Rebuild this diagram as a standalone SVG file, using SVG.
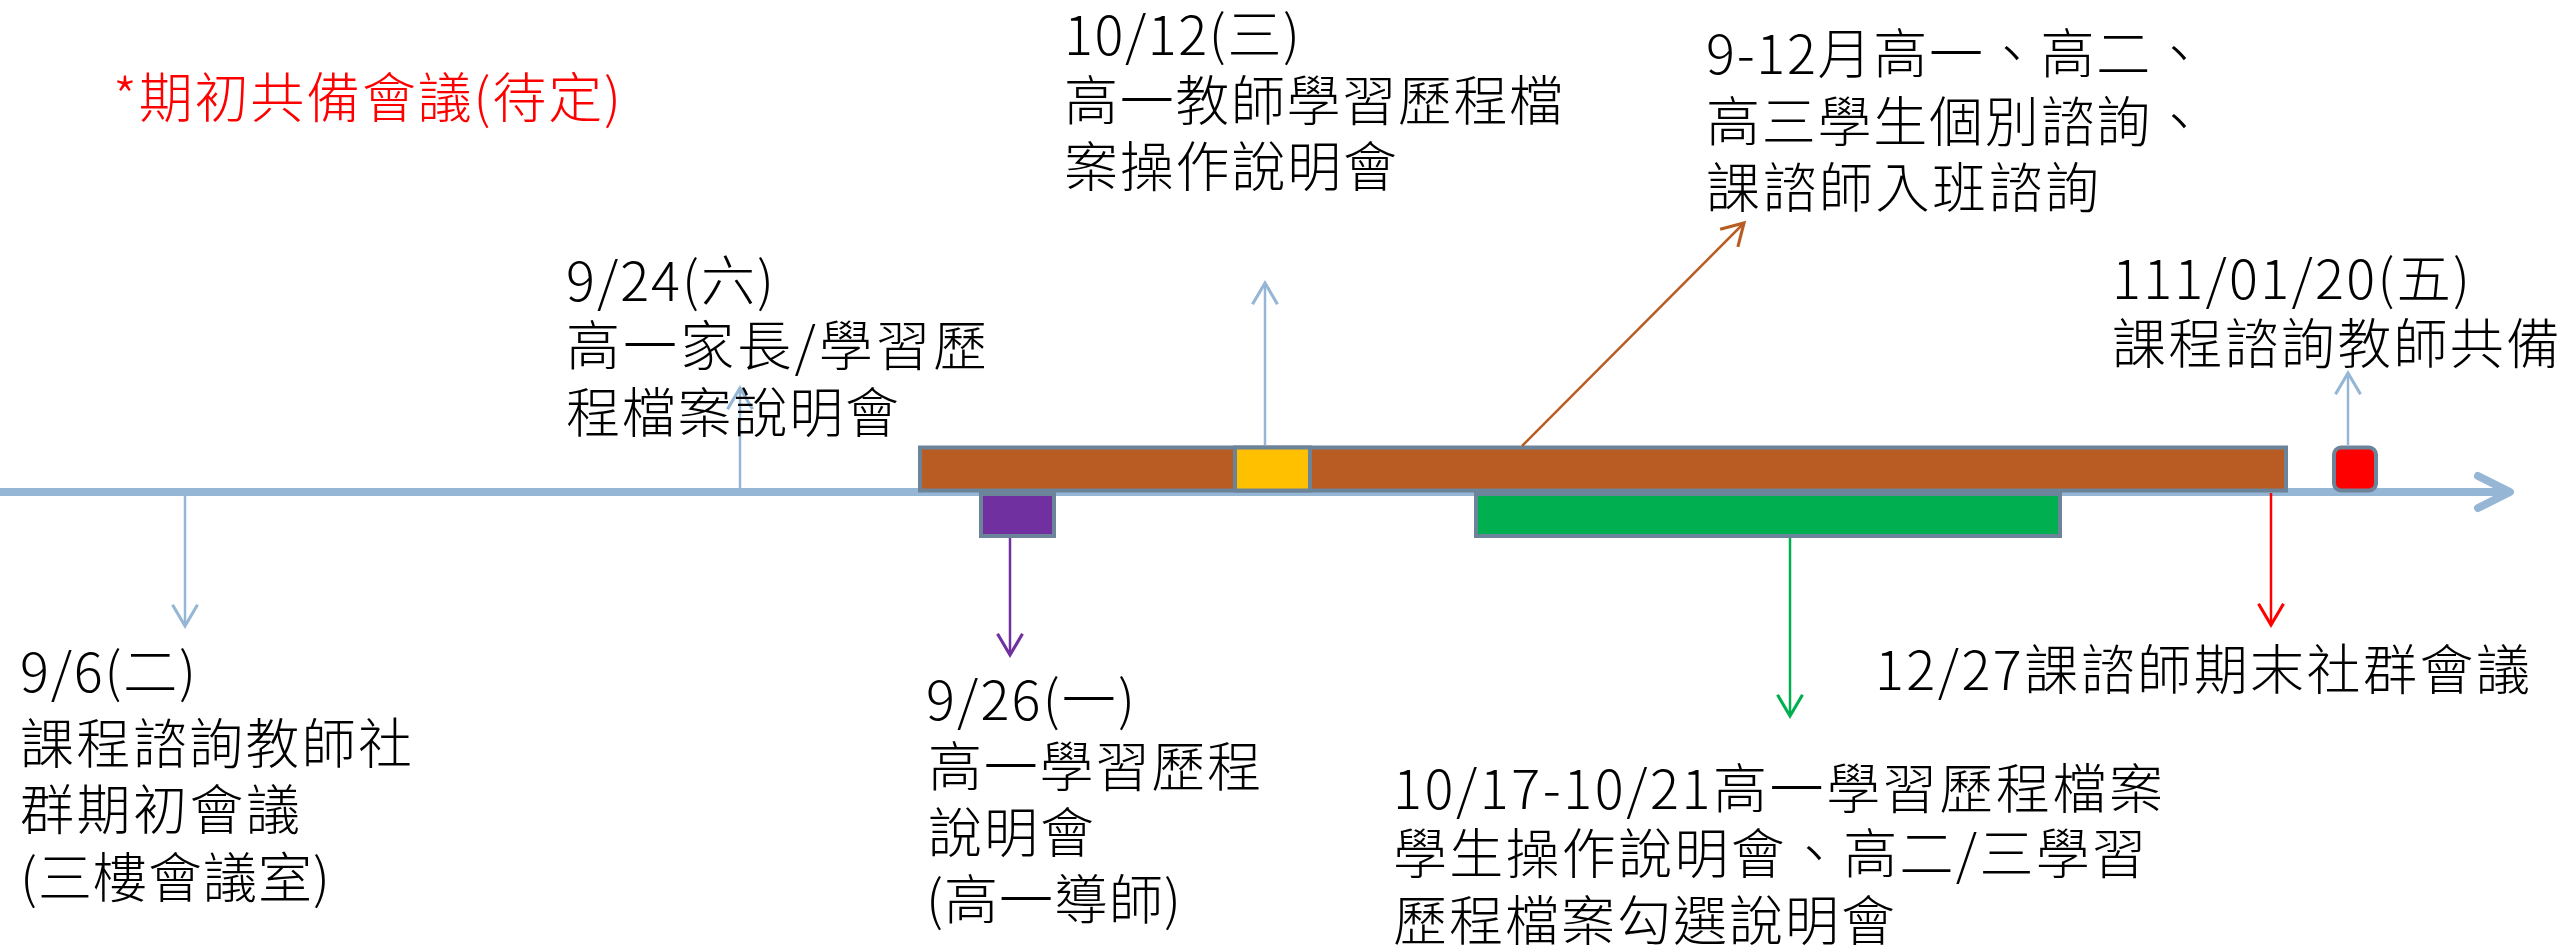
<svg xmlns="http://www.w3.org/2000/svg" width="2557" height="949" viewBox="0 0 2557 949">
<style>
  .t { font-family: "Noto Sans CJK TC", "Noto Sans CJK SC", sans-serif; font-size: 54px; font-weight: 300; fill: #000; }
  .red { fill: #FF0000; }
  .bar { stroke: #6C8499; stroke-width: 4; }
  .conn { fill: none; stroke-width: 2.5; }
</style>
<defs>
  <marker id="mBlue" markerUnits="userSpaceOnUse" markerWidth="30" markerHeight="30" viewBox="-20 -12 24 24" refX="0" refY="0" orient="auto">
    <path d="M-17,-10 L0,0 L-17,10" fill="none" stroke="#95B6D5" stroke-width="2.5"/>
  </marker>
  <marker id="mBrown" markerUnits="userSpaceOnUse" markerWidth="30" markerHeight="30" viewBox="-20 -12 24 24" refX="0" refY="0" orient="auto">
    <path d="M-17,-10 L0,0 L-17,10" fill="none" stroke="#B85C23" stroke-width="2.5"/>
  </marker>
  <marker id="mPurple" markerUnits="userSpaceOnUse" markerWidth="30" markerHeight="30" viewBox="-20 -12 24 24" refX="0" refY="0" orient="auto">
    <path d="M-17,-10 L0,0 L-17,10" fill="none" stroke="#7030A0" stroke-width="2.5"/>
  </marker>
  <marker id="mGreen" markerUnits="userSpaceOnUse" markerWidth="30" markerHeight="30" viewBox="-20 -12 24 24" refX="0" refY="0" orient="auto">
    <path d="M-17,-10 L0,0 L-17,10" fill="none" stroke="#00B050" stroke-width="2.5"/>
  </marker>
  <marker id="mRed" markerUnits="userSpaceOnUse" markerWidth="30" markerHeight="30" viewBox="-20 -12 24 24" refX="0" refY="0" orient="auto">
    <path d="M-17,-10 L0,0 L-17,10" fill="none" stroke="#FF0000" stroke-width="2.5"/>
  </marker>
</defs>
<rect x="0" y="0" width="2557" height="949" fill="#FFFFFF"/>

<g id="axis">
  <line x1="0" y1="492" x2="2506" y2="492" stroke="#95B6D5" stroke-width="8"/>
  <polyline points="2478,476 2510,492 2478,508" fill="none" stroke="#95B6D5" stroke-width="8" stroke-linecap="round" stroke-linejoin="round"/>
</g>

<g id="bar-brown"><rect class="bar" x="920" y="447.5" width="1366" height="43" fill="#B85C23"/></g>
<g id="bar-yellow"><rect class="bar" x="1235" y="447.5" width="75" height="43" fill="#FFC000"/></g>
<g id="bar-purple"><rect class="bar" x="981" y="494" width="73" height="42" fill="#7030A0"/></g>
<g id="bar-green"><rect class="bar" x="1476" y="494" width="584" height="42" fill="#00B050"/></g>
<g id="box-red"><rect class="bar" x="2334" y="447.5" width="42" height="43" rx="7" fill="#FF0000"/></g>

<g id="connectors">
  <line class="conn" x1="185" y1="496" x2="185" y2="626" stroke="#95B6D5" marker-end="url(#mBlue)"/>
  <line class="conn" x1="740" y1="488" x2="740" y2="388" stroke="#95B6D5" marker-end="url(#mBlue)"/>
  <line class="conn" x1="1265" y1="445" x2="1265" y2="283" stroke="#95B6D5" marker-end="url(#mBlue)"/>
  <line class="conn" x1="2348" y1="445" x2="2348" y2="373" stroke="#95B6D5" marker-end="url(#mBlue)"/>
  <line class="conn" x1="1522" y1="446" x2="1744" y2="223" stroke="#B85C23" marker-end="url(#mBrown)"/>
  <line class="conn" x1="1010" y1="538" x2="1010" y2="655" stroke="#7030A0" marker-end="url(#mPurple)"/>
  <line class="conn" x1="1790" y1="538" x2="1790" y2="716" stroke="#00B050" marker-end="url(#mGreen)"/>
  <line class="conn" x1="2271" y1="493" x2="2271" y2="625" stroke="#FF0000" marker-end="url(#mRed)"/>
</g>

<g id="note-pending">
  <text class="t red" x="113" y="118" textLength="508" lengthAdjust="spacing">*期初共備會議(待定)</text>
</g>

<g id="label-0906">
  <text class="t" x="20" y="692" textLength="176" lengthAdjust="spacing">9/6(二)</text>
  <text class="t" x="20" y="764" textLength="392" lengthAdjust="spacing">課程諮詢教師社</text>
  <text class="t" x="20" y="830" textLength="280" lengthAdjust="spacing">群期初會議</text>
  <text class="t" x="20" y="898" textLength="310" lengthAdjust="spacing">(三樓會議室)</text>
</g>

<g id="label-0924">
  <text class="t" x="566" y="301" textLength="208" lengthAdjust="spacing">9/24(六)</text>
  <text class="t" x="566" y="366" textLength="421" lengthAdjust="spacing">高一家長/學習歷</text>
  <text class="t" x="566" y="433" textLength="333" lengthAdjust="spacing">程檔案說明會</text>
</g>

<g id="label-0926">
  <text class="t" x="926" y="720" textLength="209" lengthAdjust="spacing">9/26(一)</text>
  <text class="t" x="928" y="787" textLength="333" lengthAdjust="spacing">高一學習歷程</text>
  <text class="t" x="928" y="853" textLength="166" lengthAdjust="spacing">說明會</text>
  <text class="t" x="926" y="920" textLength="255" lengthAdjust="spacing">(高一導師)</text>
</g>

<g id="label-1012">
  <text class="t" x="1064" y="55" textLength="236" lengthAdjust="spacing">10/12(三)</text>
  <text class="t" x="1064" y="121" textLength="499" lengthAdjust="spacing">高一教師學習歷程檔</text>
  <text class="t" x="1064" y="187" textLength="333" lengthAdjust="spacing">案操作說明會</text>
</g>

<g id="label-1017">
  <text class="t" x="1393" y="809" textLength="770" lengthAdjust="spacing">10/17-10/21高一學習歷程檔案</text>
  <text class="t" x="1393" y="874" textLength="753" lengthAdjust="spacing">學生操作說明會、高二/三學習</text>
  <text class="t" x="1393" y="941" textLength="502" lengthAdjust="spacing">歷程檔案勾選說明會</text>
</g>

<g id="label-0912">
  <text class="t" x="1706" y="74" textLength="500" lengthAdjust="spacing">9-12月高一、高二、</text>
  <text class="t" x="1706" y="142" textLength="500" lengthAdjust="spacing">高三學生個別諮詢、</text>
  <text class="t" x="1706" y="208" textLength="393" lengthAdjust="spacing">課諮師入班諮詢</text>
</g>

<g id="label-1227">
  <text class="t" x="1875" y="690" textLength="655" lengthAdjust="spacing">12/27課諮師期末社群會議</text>
</g>

<g id="label-0120">
  <text class="t" x="2112" y="299" textLength="358" lengthAdjust="spacing">111/01/20(五)</text>
  <text class="t" x="2112" y="364" textLength="448" lengthAdjust="spacing">課程諮詢教師共備</text>
</g>
</svg>
